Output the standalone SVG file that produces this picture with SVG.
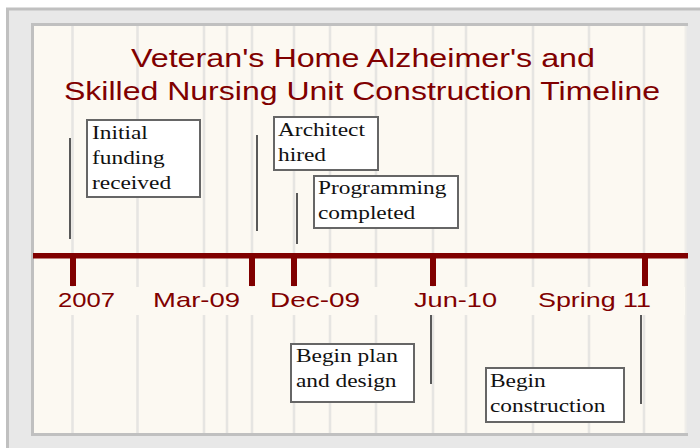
<svg xmlns="http://www.w3.org/2000/svg" width="700" height="448" viewBox="0 0 700 448">
  <defs>
    <style>
      .title { font-family: "Liberation Sans", Arial, sans-serif; font-size: 26px; fill: #800000; }
      .date { font-family: "Liberation Sans", Arial, sans-serif; font-size: 21px; fill: #800000; }
      .grid { stroke: #e6e5e2; stroke-width: 2.6; }
      .lead { stroke: #595959; stroke-width: 2; }
      .tick { fill: #800000; }
      .box rect { fill: #ffffff; stroke: #666666; stroke-width: 2; }
      .box text { font-family: "Liberation Serif", "Times New Roman", serif; font-size: 19px; fill: #111111; }
    </style>
  </defs>

  <!-- outer frame -->
  <rect x="7.5" y="9" width="720" height="460" fill="#e8e8e8" stroke="#c0c0c0" stroke-width="3"/>

  <!-- chart panel -->
  <rect x="33" y="25" width="653" height="410" fill="#fcf9f2"/>
  <line x1="31" y1="24.5" x2="688" y2="24.5" stroke="#c0c0c0" stroke-width="3"/>
  <line x1="32.5" y1="23" x2="32.5" y2="436" stroke="#c0c0c0" stroke-width="3"/>
  <line x1="31" y1="434.5" x2="688" y2="434.5" stroke="#c0c0c0" stroke-width="3"/>
  <line x1="685.5" y1="26" x2="685.5" y2="433" stroke="#efeee9" stroke-width="2"/>

  <!-- vertical gridlines -->
  <g id="gridlines" class="grid">
    <line x1="72.5" y1="26" x2="72.5" y2="433"/>
    <line x1="137.5" y1="26" x2="137.5" y2="433"/>
    <line x1="204" y1="26" x2="204" y2="433"/>
    <line x1="227" y1="26" x2="227" y2="433"/>
    <line x1="252" y1="26" x2="252" y2="433"/>
    <line x1="294" y1="26" x2="294" y2="433"/>
    <line x1="330" y1="26" x2="330" y2="433"/>
    <line x1="376" y1="26" x2="376" y2="433"/>
    <line x1="433" y1="26" x2="433" y2="433"/>
    <line x1="466" y1="26" x2="466" y2="433"/>
    <line x1="533" y1="26" x2="533" y2="433"/>
    <line x1="589" y1="26" x2="589" y2="433"/>
    <line x1="644" y1="26" x2="644" y2="433"/>
  </g>

  <!-- band behind the date labels -->
  <rect x="34" y="287" width="651" height="28" fill="#fcf9f2"/>

  <!-- title -->
  <g id="title">
    <text class="title" x="131" y="67" textLength="464" lengthAdjust="spacingAndGlyphs">Veteran's Home Alzheimer's and</text>
    <text class="title" x="64" y="100" textLength="596" lengthAdjust="spacingAndGlyphs">Skilled Nursing Unit Construction Timeline</text>
  </g>

  <!-- timeline axis with ticks -->
  <g id="axis">
    <rect x="33" y="253" width="655" height="5.5" fill="#800000"/>
    <rect class="tick" x="70" y="257" width="6" height="29"/>
    <rect class="tick" x="249" y="257" width="6" height="29"/>
    <rect class="tick" x="291" y="257" width="6" height="29"/>
    <rect class="tick" x="430" y="257" width="6" height="29"/>
    <rect class="tick" x="642" y="257" width="6" height="29"/>
  </g>

  <!-- date labels -->
  <g id="dates">
    <text class="date" x="58" y="307" textLength="57" lengthAdjust="spacingAndGlyphs">2007</text>
    <text class="date" x="153" y="307" textLength="87" lengthAdjust="spacingAndGlyphs">Mar-09</text>
    <text class="date" x="270" y="307" textLength="90" lengthAdjust="spacingAndGlyphs">Dec-09</text>
    <text class="date" x="414" y="307" textLength="83" lengthAdjust="spacingAndGlyphs">Jun-10</text>
    <text class="date" x="538" y="307" textLength="113" lengthAdjust="spacingAndGlyphs">Spring 11</text>
  </g>

  <!-- leader lines -->
  <g id="connectors" class="lead">
    <line x1="70" y1="138" x2="70" y2="239"/>
    <line x1="257" y1="135" x2="257" y2="231"/>
    <line x1="297" y1="193" x2="297" y2="244"/>
    <line x1="431" y1="315" x2="431" y2="384"/>
    <line x1="641" y1="315" x2="641" y2="404"/>
  </g>

  <!-- event boxes -->
  <g id="event-funding" class="box">
    <rect x="87" y="120" width="113" height="77"/>
    <text transform="translate(92 139) scale(1.23 1)">
      <tspan x="0" y="0">Initial</tspan>
      <tspan x="0" y="25">funding</tspan>
      <tspan x="0" y="50">received</tspan>
    </text>
  </g>

  <g id="event-architect" class="box">
    <rect x="274" y="117" width="104" height="53"/>
    <text transform="translate(278 136) scale(1.23 1)">
      <tspan x="0" y="0">Architect</tspan>
      <tspan x="0" y="25">hired</tspan>
    </text>
  </g>

  <g id="event-programming" class="box">
    <rect x="314" y="176" width="144" height="52"/>
    <text transform="translate(318 194) scale(1.23 1)">
      <tspan x="0" y="0">Programming</tspan>
      <tspan x="0" y="25">completed</tspan>
    </text>
  </g>

  <g id="event-design" class="box">
    <rect x="291" y="344" width="123" height="58"/>
    <text transform="translate(296 362) scale(1.23 1)">
      <tspan x="0" y="0">Begin plan</tspan>
      <tspan x="0" y="25">and design</tspan>
    </text>
  </g>

  <g id="event-construction" class="box">
    <rect x="486" y="368" width="138" height="54"/>
    <text transform="translate(490 387) scale(1.23 1)">
      <tspan x="0" y="0">Begin</tspan>
      <tspan x="0" y="25">construction</tspan>
    </text>
  </g>
</svg>
